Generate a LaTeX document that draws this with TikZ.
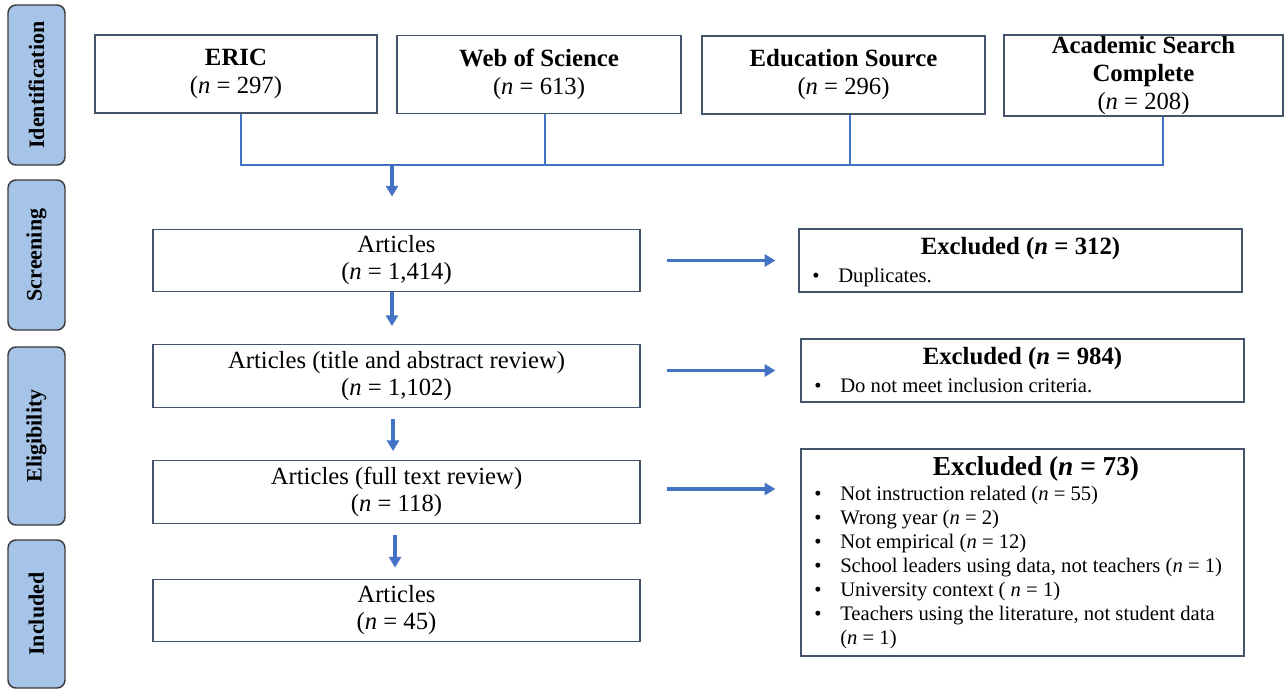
\documentclass[tikz,border=0pt]{standalone}
\usepackage{fontspec}
\setmainfont{Liberation Serif}
\usetikzlibrary{arrows.meta}
\definecolor{stagefill}{HTML}{A6C4E8}
\definecolor{stageedge}{HTML}{3A3A3A}
\definecolor{boxedge}{HTML}{44546A}
\definecolor{flow}{HTML}{4472C4}
\begin{document}
\begin{tikzpicture}[x=0.75pt,y=-0.75pt,
  stagebox/.style={draw=stageedge, line width=1.1pt, fill=stagefill, rounded corners=6pt,
    minimum height=42.75pt, inner sep=0pt, rotate=90,
    font=\fontsize{16.5}{18}\selectfont\bfseries},
  dbbox/.style={draw=boxedge, line width=0.9pt, inner sep=0pt, align=center,
    minimum width=211.5pt, minimum height=58.5pt,
    font=\fontsize{18.5}{21}\selectfont},
  artbox/.style={draw=boxedge, line width=0.9pt, inner sep=0pt, align=center,
    minimum width=365.25pt, minimum height=47pt,
    font=\fontsize{18.5}{20.25}\selectfont},
  exbox/.style={draw=boxedge, line width=0.9pt, inner sep=0pt, minimum width=332.25pt},
  extitle/.style={inner sep=0pt, font=\fontsize{18.6}{20}\selectfont\bfseries},
  exlist/.style={inner sep=0pt, anchor=base west, font=\fontsize{15.5}{18}\selectfont},
  flowline/.style={draw=flow, line width=1.5pt},
  flowarrow/.style={draw=flow, line width=2.4pt, -{Triangle[length=8pt,width=9pt]}}]
\useasboundingbox (0,0) rectangle (1285,690);

% stage labels
\node[stagebox, minimum width=120pt]   (sid) at (36.5,85)  {Identification};
\node[stagebox, minimum width=112.5pt] (ssc) at (36.5,255) {Screening};
\node[stagebox, minimum width=133.5pt] (sel) at (36.5,436) {Eligibility};
\node[stagebox, minimum width=111pt]   (sin) at (36.5,614) {Included};

% databases
\newcommand{\dbtitle}[1]{{\fontsize{18.6}{21}\selectfont\bfseries #1}}
\node[dbbox] (eric) at (236,74)  {\dbtitle{ERIC}\\(\textit{n} = 297)};
\node[dbbox, minimum width=213pt] (wos) at (539,74.5) {\dbtitle{Web of Science}\\(\textit{n} = 613)};
\node[dbbox, minimum width=212.25pt] (edu) at (843.5,75) {\dbtitle{Education Source}\\(\textit{n} = 296)};
\node[dbbox, minimum width=209.25pt, minimum height=60.75pt] (asc) at (1143.5,75.5)
  {\dbtitle{Academic Search}\\\dbtitle{Complete}\\(\textit{n} = 208)};

% flow boxes
\node[artbox] (arts) at (396.5,260.5) {Articles\\(\textit{n} = 1,414)};
\node[artbox] (tab)  at (396.5,376)   {Articles (title and abstract review)\\(\textit{n} = 1,102)};
\node[artbox] (full) at (396.5,492)   {Articles (full text review)\\(\textit{n} = 118)};
\node[artbox] (incl) at (396.5,610.5) {Articles\\(\textit{n} = 45)};

% excluded boxes
\node[exbox, minimum height=47.25pt] (ex1) at (1020.5,260.5) {};
\node[extitle] (ex1t) at (1020.5,248.5) {Excluded (\textit{n} = 312)};
\node[exlist] (ex1l) at (812,282) {\begin{tabular}[t]{@{}p{19.5pt}@{}l@{}}\textbullet & Duplicates.\end{tabular}};

\node[exbox, minimum height=47.25pt] (ex2) at (1022.5,370.5) {};
\node[extitle] (ex2t) at (1022.5,359) {Excluded (\textit{n} = 984)};
\node[exlist] (ex2l) at (814,392) {\begin{tabular}[t]{@{}p{19.5pt}@{}l@{}}\textbullet & Do not meet inclusion criteria.\end{tabular}};

\node[exbox, minimum height=155.25pt] (ex3) at (1022.5,552.5) {};
\node[extitle, font=\fontsize{20.5}{22}\selectfont\bfseries] (ex3t) at (1036,468.5) {Excluded (\textit{n} = 73)};
\node[exlist] (ex3l) at (814,500) {\begin{tabular}[t]{@{}p{19.5pt}@{}l@{}}
\textbullet & Not instruction related (\textit{n} = 55)\\
\textbullet & Wrong year (\textit{n} = 2)\\
\textbullet & Not empirical (\textit{n} = 12)\\
\textbullet & School leaders using data, not teachers (\textit{n} = 1)\\
\textbullet & University context ( \textit{n} = 1)\\
\textbullet & Teachers using the literature, not student data\\
 & (\textit{n} = 1)
\end{tabular}};

% identification connectors
\coordinate (busL) at (241,165);
\coordinate (busR) at (1163,165);
\coordinate (jW) at (545,165);
\coordinate (jE) at (850,165);
\coordinate (bus) at (392,165);
\draw[flowline] (eric.south -| busL) -- (busL) -- (busR) -- (asc.south -| busR);
\draw[flowline] (wos.south -| jW) -- (jW);
\draw[flowline] (edu.south -| jE) -- (jE);
\draw[flowarrow, shorten >=24pt] (bus) -- (bus |- arts.north);

% vertical arrows
\draw[flowarrow, shorten >=13.5pt] ([xshift=-3.4pt]arts.south) -- ([xshift=-3.4pt]tab.north);
\draw[flowarrow, shorten <=8.25pt, shorten >=6.75pt] ([xshift=-2.6pt]tab.south) -- ([xshift=-2.6pt]full.north);
\draw[flowarrow, shorten <=8.25pt, shorten >=8.25pt] ([xshift=-1.1pt]full.south) -- ([xshift=-1.1pt]incl.north);

% horizontal arrows
\draw[flowarrow, shorten <=19.5pt, shorten >=17.25pt] (arts.east) -- (ex1.west);
\draw[flowarrow, shorten <=19.5pt, shorten >=18.75pt] (ex2.west -| tab.east) -- (ex2.west);
\draw[flowarrow, shorten <=19.5pt, shorten >=18.75pt] ([yshift=2.25pt]full.east) -- ([yshift=2.25pt]full.east -| ex3.west);
\end{tikzpicture}
\end{document}
